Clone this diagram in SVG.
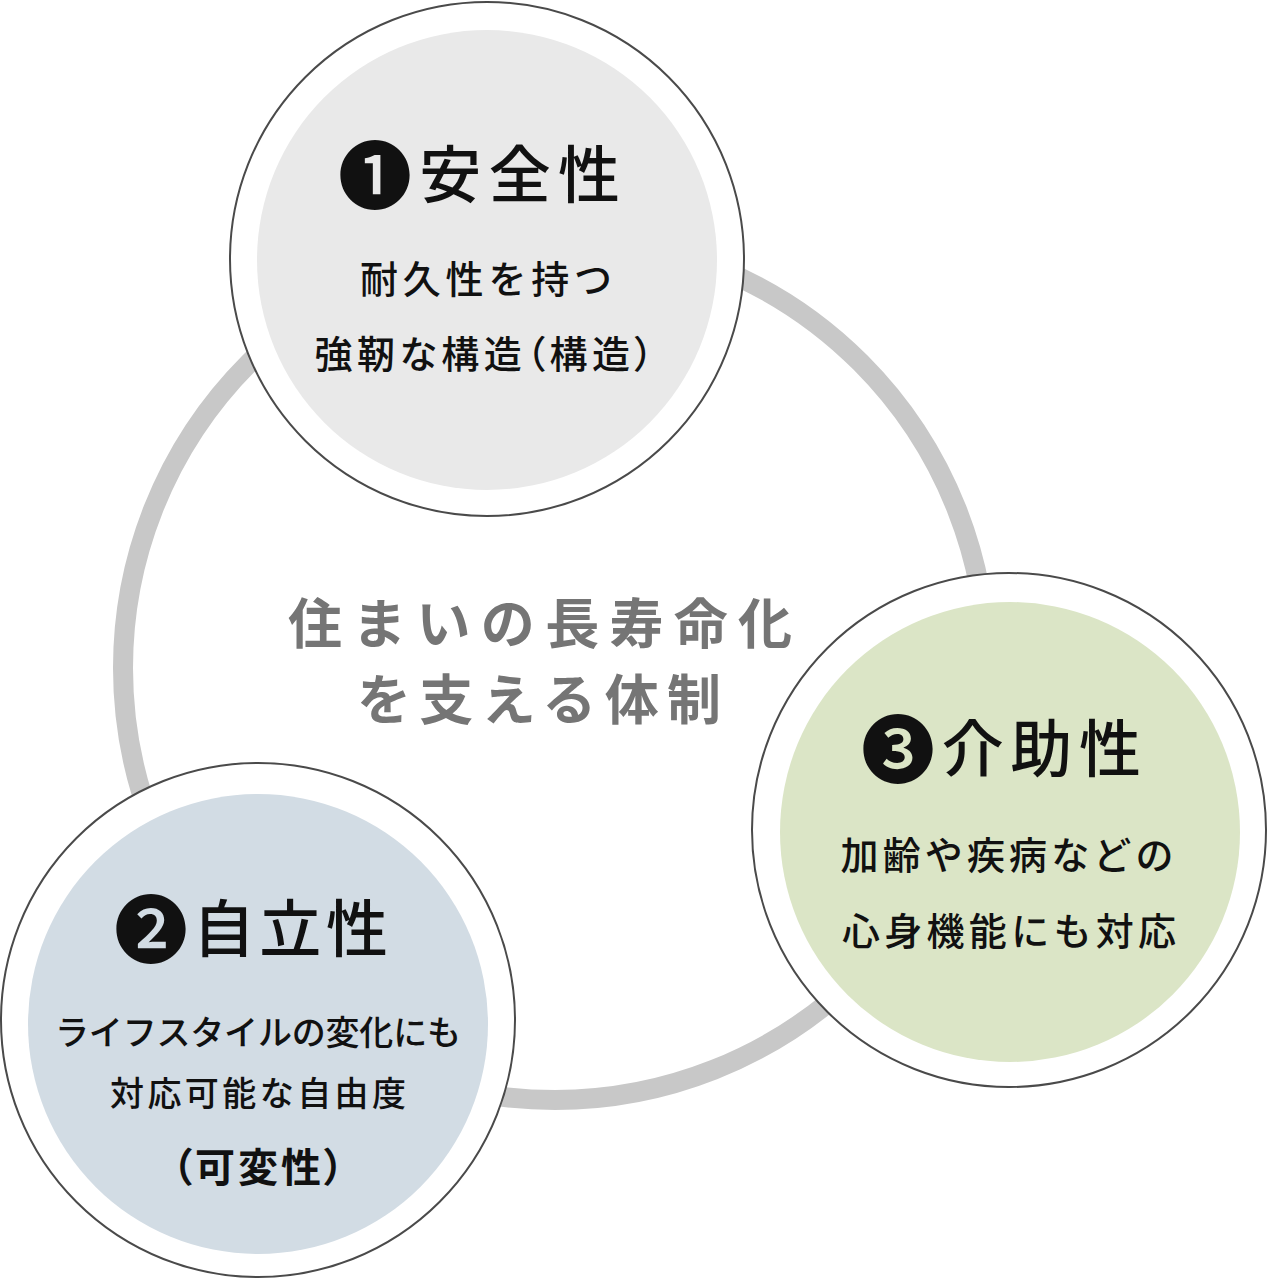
<svg xmlns="http://www.w3.org/2000/svg" width="1268" height="1279" viewBox="0 0 1268 1279">
<style>
text{font-family:"Noto Sans CJK JP","Noto Sans CJK SC",sans-serif;text-anchor:middle;}
.outer{fill:#ffffff;stroke:#4a4a4a;stroke-width:2;}
.title{font-size:62px;font-weight:500;fill:#111;}
.num{font-size:74px;}
.body{font-size:38px;font-weight:500;fill:#111;}
.palt{font-feature-settings:"palt";}
.center{font-size:54px;font-weight:700;fill:#757575;}
</style>
<rect width="1268" height="1279" fill="#ffffff"/>
<g id="connectors">
<circle cx="555" cy="668" r="432" fill="none" stroke="#c8c8c8" stroke-width="20"/>
</g>
<g id="center-label">
<text class="center" x="540" y="644" textLength="504" lengthAdjust="spacing">住まいの長寿命化</text>
<text class="center" x="539" y="720" textLength="364" lengthAdjust="spacing">を支える体制</text>
</g>
<g id="node-safety">
<circle class="outer" cx="487" cy="259" r="257"/>
<circle cx="487" cy="260" r="230" fill="#e9e9e9"/>
<text class="title" x="479" y="198" textLength="282" lengthAdjust="spacing"><tspan class="num" dy="5">❶</tspan><tspan dy="-5">安全性</tspan></text>
<text class="body" x="486" y="293" textLength="252" lengthAdjust="spacing">耐久性を持つ</text>
<text class="body palt" x="484" y="368" textLength="339" lengthAdjust="spacing">強靭な構造（構造）</text>
</g>
<g id="node-independence">
<circle class="outer" cx="258" cy="1020" r="257"/>
<circle cx="258" cy="1024" r="230" fill="#d2dce4"/>
<text class="title" x="251" y="952" textLength="274" lengthAdjust="spacing"><tspan class="num" dy="5">❷</tspan><tspan dy="-5">自立性</tspan></text>
<text class="body" style="font-size:34px" x="258" y="1045" textLength="406" lengthAdjust="spacing">ライフスタイルの変化にも</text>
<text class="body" style="font-size:34px" x="258" y="1106" textLength="296" lengthAdjust="spacing">対応可能な自由度</text>
<text class="body palt" style="font-size:40px;font-weight:700" x="258" y="1182" textLength="172" lengthAdjust="spacing">（可変性）</text>
</g>
<g id="node-care">
<circle class="outer" cx="1009" cy="830" r="257"/>
<circle cx="1010" cy="832" r="230" fill="#dbe5c6"/>
<text class="title" x="1001" y="772" textLength="280" lengthAdjust="spacing"><tspan class="num" dy="5">❸</tspan><tspan dy="-5">介助性</tspan></text>
<text class="body" x="1007" y="869" textLength="333" lengthAdjust="spacing">加齢や疾病などの</text>
<text class="body" x="1009" y="945" textLength="334" lengthAdjust="spacing">心身機能にも対応</text>
</g>
</svg>
